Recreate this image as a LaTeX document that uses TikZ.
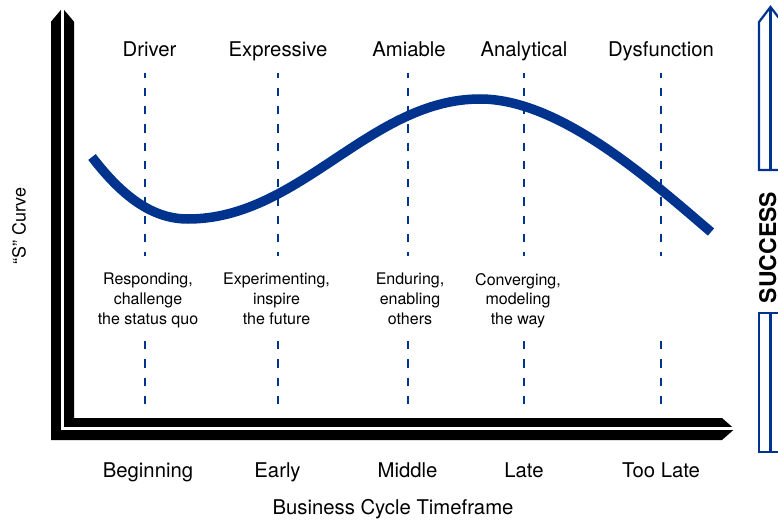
\documentclass[tikz,border=0pt]{standalone}
\usepackage{fontspec}
\setmainfont{TeX Gyre Heros}
\definecolor{cblue}{RGB}{0,51,141}
\begin{document}
\begin{tikzpicture}[x=1pt,y=-1pt,
  toplbl/.style={font=\fontsize{20.3}{22}\selectfont, anchor=base, inner sep=0pt},
  desc/.style={font=\fontsize{16}{19.7}\selectfont, align=center, anchor=north, inner sep=0pt},
  guide/.style={cblue, line width=2.2pt, dash pattern=on 8.3pt off 10pt},
  scurve/.style={cblue, line width=9.5pt},
  succ/.style={cblue, line width=2.2pt}]
\useasboundingbox (0,0) rectangle (778,521);
\clip (0,0) rectangle (778,521);

% axes (double black arrow)
\fill[black] (51,440) -- (51,21.7) -- (62.5,8) -- (74,21.7) -- (74,418) -- (722,418) -- (734.5,429) -- (722,440) -- cycle;
\draw[white, line width=2.8pt] (62.5,0) -- (62.5,428.5) -- (740,428.5);

% dashed guides
\foreach \x in {145,278,408,524,661}{
  \draw[guide, dash phase=3.3pt] (\x,72.7) -- (\x,256);
  \draw[guide] (\x,341) -- (\x,404);
}

% the S curve
\draw[scurve] (92,157) .. controls (125,200) and (155,219) .. (188,219)
  .. controls (300,219) and (370,99) .. (480,99)
  .. controls (560,99) and (650,180) .. (711,232);

% top labels
\node[toplbl] (t1) at (149.5,57) {Driver};
\node[toplbl] (t2) at (278,57) {Expressive};
\node[toplbl] (t3) at (409,57) {Amiable};
\node[toplbl] (t4) at (524,57) {Analytical};
\node[toplbl] (t5) at (661,57) {Dysfunction};

% descriptions
\node[desc] (d1) at (148,273) {Responding,\\challenge\\the status quo};
\node[desc] (d2) at (276.5,273) {Experimenting,\\inspire\\the future};
\node[desc] (d3) at (410,273) {Enduring,\\enabling\\others};
\node[desc] (d4) at (518,273) {Converging,\\modeling\\the way};

% bottom labels
\node[toplbl] (b1) at (148,477) {Beginning};
\node[toplbl] (b2) at (277.5,477) {Early};
\node[toplbl] (b3) at (407.5,477) {Middle};
\node[toplbl] (b4) at (524,477) {Late};
\node[toplbl] (b5) at (661,477) {Too Late};
\node[toplbl] (xt) at (393,514) {Business Cycle Timeframe};

% y label
\node[rotate=90, font=\fontsize{18}{18}\selectfont, inner sep=0pt] (yt) at (19,226) {“S” Curve};

% success arrow
\draw[succ] (790,170) -- (759,170) -- (759,22) -- (770.5,7) -- (782,22) -- (782,170);
\draw[succ] (770.5,7) -- (770.5,170);
\draw[succ] (790,313) -- (759,313) -- (759,452) -- (790,452);
\draw[succ] (770.5,313) -- (770.5,452);
\node[rotate=90, font=\bfseries\fontsize{23}{24}\selectfont, inner sep=0pt] (sc) at (767.8,247.5) {SUCCESS};
\end{tikzpicture}
\end{document}
